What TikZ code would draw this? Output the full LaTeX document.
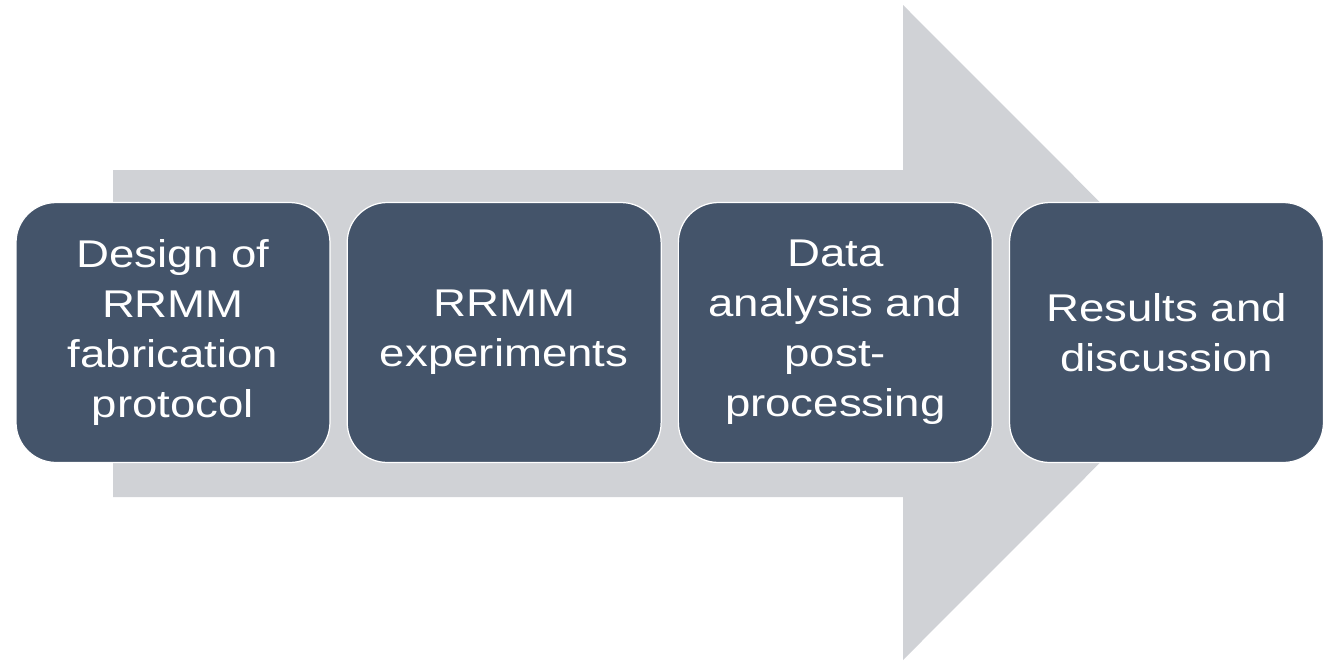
\documentclass[tikz,border=0pt]{standalone}
\usepackage{fontspec}
\newfontfamily\stepfont{Liberation Sans}[FakeStretch=1.18]
\usepackage{tikz}
\usetikzlibrary{positioning}
\definecolor{stepblue}{RGB}{68,84,106}
\definecolor{flowgrey}{RGB}{208,210,214}

\begin{document}
\begin{tikzpicture}[x=0.02cm, y=-0.02cm,
    stepbox/.style={draw=white, line width=0.7pt, rounded corners=0.8cm, fill=stepblue,
        minimum width=6.28cm, minimum height=5.2cm, align=center, text=white,
        font=\stepfont\fontsize{22}{28.4}\selectfont},
]
\useasboundingbox (0,0) rectangle (1331,660);
% big arrow behind the steps
\fill[flowgrey] (113,170) -- (903,170) -- (903,5) -- (1230,332.5)
    -- (903,660) -- (903,497) -- (113,497) -- cycle;

\node[stepbox] (design) at (173,332.5) {Design of\\RRMM\\fabrication\\protocol};
\node[stepbox, right=0.32cm of design] (exper) {RRMM\\experiments};
\node[stepbox, right=0.32cm of exper] (analysis) {Data\\analysis and\\post-\\processing};
\node[stepbox, right=0.32cm of analysis] (results) {Results and\\discussion};
\end{tikzpicture}
\end{document}
